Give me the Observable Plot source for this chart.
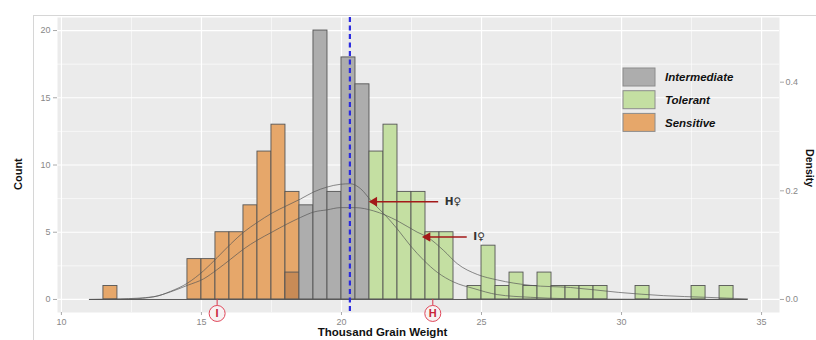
<!DOCTYPE html>
<html><head><meta charset="utf-8">
<script src="https://cdn.jsdelivr.net/npm/d3@7"></script>
<script src="https://cdn.jsdelivr.net/npm/@observablehq/plot@0.6"></script>
<style>
body{margin:0;background:#fff;}
#wrap{position:relative;width:816px;height:340px;overflow:hidden;}
#border{position:absolute;left:33px;top:15px;width:800px;height:340px;border-top:1px solid #d6d6d6;border-left:1px solid #d6d6d6;}
#wrap svg{position:absolute;left:0;top:0;}
</style></head><body><div id="wrap"><div id="border"></div></div>
<script>
// ---- data ----
const binWidth = 0.5;
const sensitiveBins   = [11.5, 14.5, 15, 15.5, 16, 16.5, 17, 17.5, 18];
const sensitiveCounts = [1, 3, 3, 5, 5, 7, 11, 13, 8];
const intermediateBins   = [18, 18.5, 19, 19.5, 20, 20.5];
const intermediateCounts = [2, 7, 20, 8, 18, 16];
const tolerantBins   = [21, 21.5, 22, 22.5, 23, 23.5, 24.5, 25, 25.5, 26, 26.5, 27, 27.5, 28, 28.5, 29, 30.5, 32.5, 33.5];
const tolerantCounts = [11, 13, 8, 8, 5, 5, 1, 4, 1, 2, 1, 2, 1, 1, 1, 1, 1, 1, 1];

const densityAx = [11.0, 12.1, 13.3, 13.9, 14.5, 15.08, 15.56, 16.04, 16.51, 17.0, 17.52, 18.06, 18.54, 19.01, 19.49, 19.96, 20.32, 20.68, 21.1, 21.51, 21.99, 22.46, 22.94, 23.42, 24.01, 24.73, 25.56, 26.75, 28.0, 30.0, 34.5];
const densityAy = [0, 0.001, 0.005, 0.015, 0.030, 0.053, 0.077, 0.102, 0.124, 0.142, 0.159, 0.173, 0.185, 0.198, 0.207, 0.212, 0.213, 0.204, 0.179, 0.158, 0.130, 0.099, 0.072, 0.050, 0.032, 0.020, 0.009, 0.004, 0.0015, 0.0005, 0];
const densityBx = [11.0, 12.5, 13.3, 13.9, 14.5, 15.08, 15.56, 16.04, 16.51, 16.99, 17.52, 18.06, 18.54, 19.01, 19.49, 19.96, 20.5, 21.15, 21.99, 22.7, 23.06, 23.65, 24.13, 24.85, 25.56, 26.75, 28.18, 29.9, 31.5, 33.0, 34.5];
const densityBy = [0, 0.001, 0.005, 0.014, 0.026, 0.038, 0.055, 0.074, 0.093, 0.109, 0.124, 0.139, 0.151, 0.161, 0.165, 0.169, 0.169, 0.163, 0.145, 0.124, 0.115, 0.090, 0.066, 0.046, 0.036, 0.026, 0.022, 0.013, 0.007, 0.004, 0.001];

const xTicks = [10, 15, 20, 25, 30, 35];
const xMinor = [12.5, 17.5, 22.5, 27.5, 32.5];
const countTicks = [0, 5, 10, 15, 20];
const countMinor = [2.5, 7.5, 12.5, 17.5];
const densityTicks = [0, 0.2, 0.4];
const densityScale = 40.4;
const dataRange = [11.0, 34.5];
const meanValue = 20.3;
const parentLabels = ["I", "H"];
const parentValues = [15.56, 23.26];
const arrowLabels  = ["H\u2640", "I\u2640"];
const arrowFrom    = [23.47, 24.49];
const arrowTo      = [21.10, 23.0];
const arrowDensity = [0.180, 0.115];
const groups = ["Intermediate", "Tolerant", "Sensitive"];
const groupColors = ["#ADADAD", "#C4DFA2", "#E6A76A"];
const overlapColor = "#C88B56";

// ---- tables ----
const mk = (bins, counts) => bins.map((b, i) => ({x0: b, count: counts[i]}));
const sens = mk(sensitiveBins, sensitiveCounts);
const inter = mk(intermediateBins, intermediateCounts);
const tol = mk(tolerantBins, tolerantCounts);
const curveA = densityAx.map((x, i) => ({x, d: densityAy[i]}));
const curveB = densityBx.map((x, i) => ({x, d: densityBy[i]}));
const parents = parentLabels.map((l, i) => ({label: l, x: parentValues[i]}));
const arrows = arrowLabels.map((l, i) => ({label: l, x1: arrowFrom[i], x2: arrowTo[i], d: arrowDensity[i]}));

const barStroke = "#555";
const font = "'Liberation Sans', Arial, sans-serif";

const chart = Plot.plot({
  width: 816, height: 340,
  marginLeft: 57, marginRight: 37, marginTop: 17, marginBottom: 28,
  x: {domain: [9.86, 35.64]},
  y: {domain: [-0.97, 20.97]},
  style: {fontFamily: font, background: "transparent", overflow: "visible"},
  marks: [
    Plot.frame({fill: "#EBEBEB", stroke: null}),
    Plot.gridX(xMinor, {stroke: "#fff", strokeOpacity: 1, strokeWidth: 0.6}),
    Plot.gridX(xTicks, {stroke: "#fff", strokeOpacity: 1, strokeWidth: 1.2}),
    Plot.gridY(countMinor, {stroke: "#fff", strokeOpacity: 1, strokeWidth: 0.6}),
    Plot.gridY(countTicks, {stroke: "#fff", strokeOpacity: 1, strokeWidth: 1.2}),
    Plot.rectY(sens, {x1: "x0", x2: d => d.x0 + binWidth, y1: 0, y2: "count", fill: groupColors[2], stroke: barStroke, strokeWidth: 0.9}),
    Plot.rectY(inter, {x1: "x0", x2: d => d.x0 + binWidth, y1: 0, y2: "count",
      fill: d => sensitiveBins.includes(d.x0) ? overlapColor : groupColors[0], stroke: barStroke, strokeWidth: 0.9}),
    Plot.rectY(tol, {x1: "x0", x2: d => d.x0 + binWidth, y1: 0, y2: "count", fill: groupColors[1], stroke: barStroke, strokeWidth: 0.9}),
    Plot.line(curveA, {x: "x", y: d => d.d * densityScale, curve: "monotone-x", stroke: "#555", strokeWidth: 0.8, strokeOpacity: 0.85}),
    Plot.line(curveB, {x: "x", y: d => d.d * densityScale, curve: "monotone-x", stroke: "#555", strokeWidth: 0.8, strokeOpacity: 0.85}),
    Plot.ruleY([0], {x1: dataRange[0], x2: dataRange[1], stroke: "#555", strokeWidth: 1}),
    Plot.ruleX([meanValue], {stroke: "#2B2BE0", strokeWidth: 2.2, strokeDasharray: "5,3.5"}),
    Plot.ruleY(arrows, {x1: "x1", x2: "x2", y: d => d.d * densityScale, stroke: "#A31919", strokeWidth: 1.4}),
    Plot.dot(arrows, {x: "x2", y: d => d.d * densityScale, symbol: "triangle", rotate: -90, r: 3.6, fill: "#A31919", stroke: null, dx: 2}),
    Plot.text(arrows, {x: "x1", y: d => d.d * densityScale, text: "label", textAnchor: "start", dx: 6, fontWeight: "bold", fontSize: 10.5, fill: "#333", fontFamily: "'DejaVu Sans', sans-serif"}),
    Plot.ruleX(parents, {x: "x", y1: 0, y2: 0, insetBottom: -6, stroke: "#D9344A", strokeWidth: 1}),
    Plot.dot(parents, {x: "x", y: 0, dy: 14, r: 8, fill: "#F7F2F3", stroke: "#E0475A", strokeWidth: 1}),
    Plot.text(parents, {x: "x", y: 0, dy: 14, text: "label", fontWeight: "bold", fontSize: 11, fill: "#C8243A"}),
    Plot.axisX(xTicks, {anchor: "bottom", tickSize: 3, tickPadding: 3, fontSize: 9, fill: "#888", stroke: "#aaa", label: null}),
    Plot.axisY(countTicks, {anchor: "left", tickSize: 4, tickPadding: 3, fontSize: 9, fill: "#888", stroke: "#aaa", label: null}),
    Plot.axisY(densityTicks.map(d => d * densityScale), {anchor: "right", tickSize: 4, tickPadding: 2, fontSize: 9, fill: "#888", stroke: "#aaa", label: null,
      tickFormat: d => (d / densityScale).toFixed(1)}),
    Plot.text(["Count"], {frameAnchor: "left", dx: -39, dy: 25, rotate: -90, fontWeight: "bold", fontSize: 11, fill: "#111"}),
    Plot.text(["Thousand Grain Weight"], {frameAnchor: "bottom", dx: -36, dy: 23, fontWeight: "bold", fontSize: 11.5, fill: "#111"}),
    Plot.text(["Density"], {frameAnchor: "right", dx: 30, dy: 22, rotate: 90, fontWeight: "bold", fontSize: 10.5, fill: "#111"})
  ]
});

// legend inside the panel
const svg = d3.select(chart);
const lg = svg.append("g").attr("font-family", font).attr("text-anchor", "start");
groups.forEach((g, i) => {
  const y0 = 68 + i * 22.7;
  lg.append("rect").attr("x", 623).attr("y", y0).attr("width", 32).attr("height", 18)
    .attr("fill", groupColors[i]).attr("stroke", "#8c8c8c").attr("stroke-width", 1);
  lg.append("text").attr("x", 665).attr("y", y0 + 9).attr("dy", "0.36em").attr("text-anchor", "start")
    .attr("font-size", 11.5).attr("font-weight", "bold").attr("font-style", "italic").attr("fill", "#111").text(g);
});
document.getElementById("wrap").appendChild(chart);
</script>
</body></html>
